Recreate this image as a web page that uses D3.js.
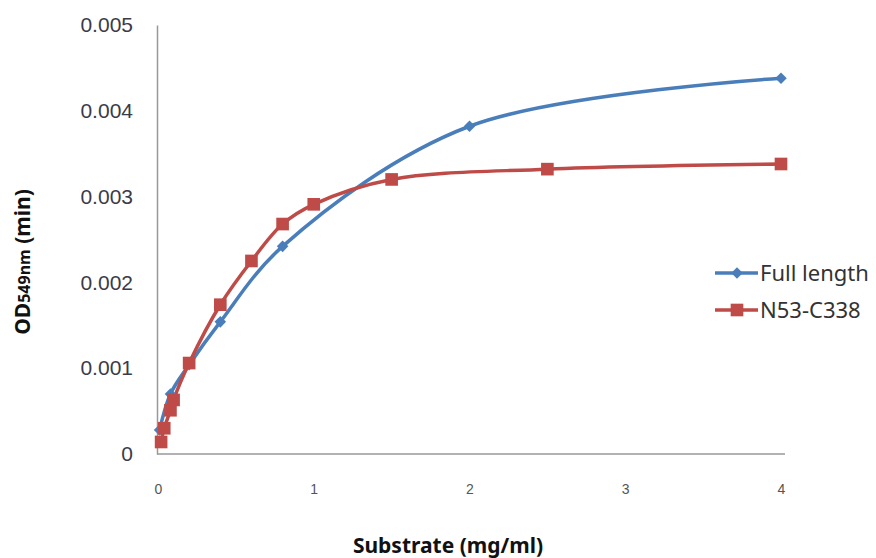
<!DOCTYPE html>
<html>
<head>
<meta charset="utf-8">
<script src="https://cdn.jsdelivr.net/npm/d3@7"></script>
<style>
	body { margin: 0; background: #fff; }
	svg { display: block; font-family: "Noto Sans", "DejaVu Sans", sans-serif; }
	.y-axis text { font-size: 21px; fill: #3b3b48; }
	.x-axis text { font-size: 14px; fill: #555; }
	.axis-title { font-weight: bold; fill: #111; }
	.legend text { font-size: 22px; fill: #333; }
</style>
</head>
<body>
<div id="chart"></div>
<script>
// substrate concentration (mg/ml)
const fullX = [0.01, 0.08, 0.2, 0.4, 0.8, 2, 4];
const fullY = [0.00028, 0.0007, 0.00104, 0.00154, 0.00242, 0.00382, 0.00438];

const truncX = [0.02, 0.04, 0.08, 0.1, 0.2, 0.4, 0.6, 0.8, 1.0, 1.5, 2.5, 4];
const truncY = [0.00014, 0.0003, 0.00051, 0.00063, 0.00106, 0.00174, 0.00225, 0.00268, 0.00291, 0.0032, 0.00332, 0.00338];

const seriesNames = ["Full length", "N53-C338"];
const xTicks = [0, 1, 2, 3, 4];
const yTicks = [0, 0.001, 0.002, 0.003, 0.004, 0.005];

const width = 876;
const height = 558;
const blue = "#4a7ebb";
const red = "#be4b48";

const svg = d3.select("#chart")
	.append("svg")
	.attr("width", width)
	.attr("height", height);

const xScale = d3.scaleLinear().domain([0, 4]).range([158, 781]);
const yScale = d3.scaleLinear().domain([0, 0.005]).range([454, 25]);

// axes
const yAxis = d3.axisLeft(yScale)
	.tickValues(yTicks)
	.tickSize(0)
	.tickPadding(24)
	.tickFormat((d) => d === 0 ? "0" : d3.format(".3f")(d));

svg.append("g")
	.attr("class", "y-axis")
	.attr("transform", "translate(157,0)")
	.call(yAxis)
	.call((g) => g.select(".domain").attr("stroke", "#999").attr("stroke-width", 1.5));

const xAxis = d3.axisBottom(xScale)
	.tickValues(xTicks)
	.tickSize(0)
	.tickPadding(30)
	.tickFormat(d3.format("d"));

svg.append("g")
	.attr("class", "x-axis")
	.attr("transform", "translate(0,454)")
	.call(xAxis)
	.call((g) => g.select(".domain")
		.attr("d", `M157,0H${xScale(4) + 4}`)
		.attr("stroke", "#999")
		.attr("stroke-width", 1.5));

// titles
svg.append("text")
	.attr("class", "axis-title")
	.attr("x", 448)
	.attr("y", 553)
	.attr("text-anchor", "middle")
	.attr("font-size", 21)
	.text("Substrate (mg/ml)");

const yTitle = svg.append("text")
	.attr("class", "axis-title")
	.attr("transform", "translate(30,262) rotate(-90)")
	.attr("text-anchor", "middle")
	.attr("font-size", 21);
yTitle.append("tspan").text("OD");
yTitle.append("tspan").attr("font-size", 16).text("549nm");
yTitle.append("tspan").text(" (min)");

// series
const line = d3.line()
	.x((d) => xScale(d[0]))
	.y((d) => yScale(d[1]))
	.curve(d3.curveCatmullRom.alpha(0.5));

const fullData = fullX.map((x, i) => [x, fullY[i]]);
const truncData = truncX.map((x, i) => [x, truncY[i]]);

svg.append("path")
	.datum(fullData)
	.attr("fill", "none")
	.attr("stroke", blue)
	.attr("stroke-width", 3.5)
	.attr("d", line);

svg.append("path")
	.datum(truncData)
	.attr("fill", "none")
	.attr("stroke", red)
	.attr("stroke-width", 3.5)
	.attr("d", line);

const diamond = d3.symbol().type(d3.symbolDiamond2).size(85);
const square = d3.symbol().type(d3.symbolSquare).size(160);

svg.append("g")
	.selectAll("path")
	.data(fullData)
	.join("path")
	.attr("d", diamond)
	.attr("fill", blue)
	.attr("transform", (d) => `translate(${xScale(d[0])},${yScale(d[1])})`);

svg.append("g")
	.selectAll("path")
	.data(truncData)
	.join("path")
	.attr("d", square)
	.attr("fill", red)
	.attr("transform", (d) => `translate(${xScale(d[0])},${yScale(d[1])})`);

// legend
const legend = svg.append("g").attr("class", "legend");
const legendItems = [
	{ name: seriesNames[0], color: blue, symbol: diamond, y: 273 },
	{ name: seriesNames[1], color: red, symbol: square, y: 310 },
];
legendItems.forEach((item) => {
	legend.append("line")
		.attr("x1", 715).attr("x2", 758)
		.attr("y1", item.y).attr("y2", item.y)
		.attr("stroke", item.color)
		.attr("stroke-width", 3.5);
	legend.append("path")
		.attr("d", item.symbol)
		.attr("fill", item.color)
		.attr("transform", `translate(737,${item.y})`);
	legend.append("text")
		.attr("x", 760)
		.attr("y", item.y)
		.attr("dy", "0.35em")
		.text(item.name);
});
</script>
</body>
</html>
